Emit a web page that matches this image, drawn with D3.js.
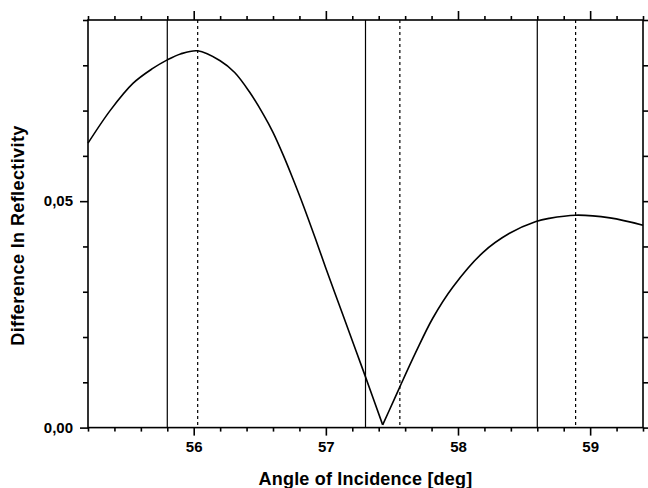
<!DOCTYPE html>
<html><head><meta charset="utf-8">
<script src="https://cdn.jsdelivr.net/npm/d3@7"></script>
<style>
body{margin:0;background:#fff;}
svg{display:block;}
text{font-family:"Liberation Sans",Arial,sans-serif;fill:#000;}
</style></head>
<body>
<script>
// ---- data ----
const angles = [55.2, 55.37, 55.54, 55.69, 55.8, 55.9, 56.03, 56.2, 56.31, 56.42, 56.53, 56.6, 56.68, 56.75, 56.83, 56.92, 57.0, 57.13, 57.23, 57.3, 57.43, 57.52, 57.56, 57.68, 57.81, 57.96, 58.19, 58.39, 58.59, 58.69, 58.89, 59.15, 59.4];
const diffReflectivity = [0.0628, 0.0701, 0.0760, 0.0793, 0.0812, 0.0825, 0.0832, 0.0810, 0.0784, 0.0742, 0.0690, 0.0652, 0.0600, 0.0550, 0.0490, 0.0418, 0.0352, 0.0248, 0.0168, 0.0112, 0.0006, 0.0064, 0.0090, 0.0166, 0.0242, 0.0310, 0.0387, 0.0429, 0.0455, 0.0462, 0.0469, 0.0463, 0.0447];
const solidLines = [55.8, 57.3, 58.6];
const dottedLines = [56.03, 57.56, 58.89];
const xMajorTicks = [56, 57, 58, 59];
const yMajorTicks = [0, 0.05];
const xLabel = "Angle of Incidence [deg]";
const yLabel = "Difference In Reflectivity";

// ---- layout ----
const W = 648, H = 488;
const m = {left: 88, right: 5, top: 20, bottom: 60.4};
const svg = d3.select("body").append("svg").attr("width", W).attr("height", H);

const x = d3.scaleLinear().domain([55.2, 59.4]).range([m.left, W - m.right]);
const y = d3.scaleLinear().domain([0, 0.09]).range([H - m.bottom, m.top]);

const xMinor = d3.range(55.2, 59.41, 0.2).map(v => +v.toFixed(1)).filter(v => !xMajorTicks.includes(v));
const yMinor = d3.range(0, 0.0901, 0.01).map(v => +v.toFixed(2)).filter(v => !yMajorTicks.includes(v));

const fmtY = d => d3.format(".2f")(d).replace(".", ",");

function styleAxis(g){
  g.select(".domain").remove();
  g.selectAll(".tick line").attr("stroke", "#000").attr("stroke-width", 1.6);
  g.selectAll(".tick text").style("font-size", "15px").style("font-weight", "bold");
}

// bottom
svg.append("g").attr("transform", `translate(0,${y(0)})`)
  .call(d3.axisBottom(x).tickValues(xMajorTicks).tickSize(8).tickPadding(6).tickFormat(d3.format("d")))
  .call(styleAxis);
svg.append("g").attr("transform", `translate(0,${y(0)})`)
  .call(d3.axisBottom(x).tickValues(xMinor).tickSize(4).tickFormat(""))
  .call(styleAxis);
// top
svg.append("g").attr("transform", `translate(0,${m.top})`)
  .call(d3.axisTop(x).tickValues(xMajorTicks).tickSize(9).tickFormat(""))
  .call(styleAxis);
svg.append("g").attr("transform", `translate(0,${m.top})`)
  .call(d3.axisTop(x).tickValues(xMinor).tickSize(4).tickFormat(""))
  .call(styleAxis);
// left
svg.append("g").attr("transform", `translate(${m.left},0)`)
  .call(d3.axisLeft(y).tickValues(yMajorTicks).tickSize(8).tickPadding(7).tickFormat(fmtY))
  .call(styleAxis);
svg.append("g").attr("transform", `translate(${m.left},0)`)
  .call(d3.axisLeft(y).tickValues(yMinor).tickSize(5).tickFormat(""))
  .call(styleAxis);
// right
svg.append("g").attr("transform", `translate(${W - m.right},0)`)
  .call(d3.axisRight(y).tickValues(yMajorTicks).tickSize(8).tickFormat(""))
  .call(styleAxis);
svg.append("g").attr("transform", `translate(${W - m.right},0)`)
  .call(d3.axisRight(y).tickValues(yMinor).tickSize(5).tickFormat(""))
  .call(styleAxis);

// vertical marker lines
svg.append("g").selectAll("line").data(solidLines).join("line")
  .attr("x1", d => x(d)).attr("x2", d => x(d))
  .attr("y1", y(0.09)).attr("y2", y(0))
  .attr("stroke", "#000").attr("stroke-width", 1.2);
svg.append("g").selectAll("line").data(dottedLines).join("line")
  .attr("x1", d => x(d)).attr("x2", d => x(d))
  .attr("y1", y(0.09)).attr("y2", y(0))
  .attr("stroke", "#000").attr("stroke-width", 1.2).attr("stroke-dasharray", "3,3");

// curve (split at the sharp minimum)
const pts = angles.map((a, i) => [a, diffReflectivity[i]]);
const iMin = d3.minIndex(diffReflectivity);
const line = d3.line().x(d => x(d[0])).y(d => y(d[1])).curve(d3.curveCatmullRom.alpha(0.5));
[pts.slice(0, iMin + 1), pts.slice(iMin)].forEach(seg => {
  svg.append("path").datum(seg).attr("d", line)
    .attr("fill", "none").attr("stroke", "#000").attr("stroke-width", 1.6);
});

// frame
svg.append("rect").attr("x", m.left).attr("y", m.top)
  .attr("width", W - m.right - m.left).attr("height", y(0) - m.top)
  .attr("fill", "none").attr("stroke", "#000").attr("stroke-width", 1.6);

// axis titles
svg.append("text").attr("x", (m.left + W - m.right) / 2).attr("y", 485)
  .attr("text-anchor", "middle").style("font-size", "18px").style("font-weight", "bold")
  .style("letter-spacing", "0.2px")
  .text(xLabel);
svg.append("text").attr("transform", "translate(24,235.5) rotate(-90)")
  .attr("text-anchor", "middle").style("font-size", "18px").style("font-weight", "bold")
  .style("letter-spacing", "0.4px")
  .text(yLabel);
</script>
</body></html>
